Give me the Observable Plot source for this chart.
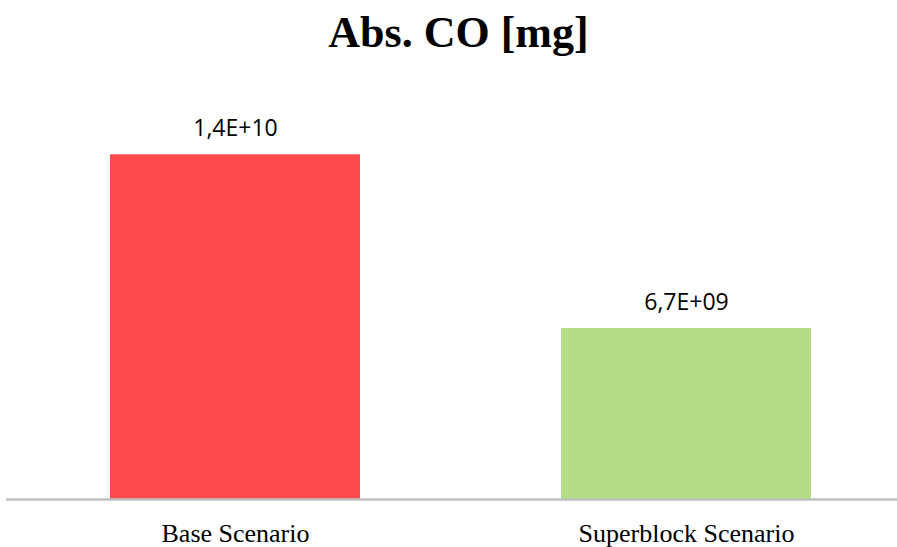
<!DOCTYPE html>
<html>
<head>
<meta charset="utf-8">
<script src="https://cdn.jsdelivr.net/npm/d3@7"></script>
<script src="https://cdn.jsdelivr.net/npm/@observablehq/plot@0.6"></script>
<style>
  html, body { margin: 0; padding: 0; background: #fff; }
  #title {
    width: 877px; height: 44px; padding-top: 11px; padding-bottom: 25px; padding-left: 20px;
    text-align: center; font-family: "Liberation Serif", "Times New Roman", serif;
    font-weight: bold; font-size: 44px; line-height: 44px; color: #000;
  }
</style>
</head>
<body>
<div id="title">Abs. CO [mg]</div>
<div id="chart"></div>
<script>
const categories = ["Base Scenario", "Superblock Scenario"];
const values = [1.35e10, 6.7e9];
const valueLabels = ["1,4E+10", "6,7E+09"];
const colors = ["#FF4B4B", "#B3DE85"];

const data = categories.map((c, i) => ({category: c, value: values[i], label: valueLabels[i], color: colors[i]}));

const chart = Plot.plot({
  width: 897,
  height: 467,
  marginTop: 36,
  marginBottom: 48,
  marginLeft: 6,
  marginRight: 0,
  x: {domain: categories, paddingInner: 0.446, paddingOuter: 0.2097, align: 0.549},
  y: {domain: [0, 1.5e10], axis: null},
  marks: [
    Plot.barY(data, {x: "category", y: "value", fill: "color"}),
    Plot.ruleY([0], {stroke: "#BFBFBF", strokeWidth: 2.5}),
    Plot.text(data, {x: "category", y: "value", text: "label", dy: -26, lineAnchor: "middle",
      fontFamily: "Open Sans, sans-serif", fontSize: 23, fill: "#000"}),
    Plot.axisX({tickSize: 0, tickPadding: 24, fontSize: 26, fontFamily: "Liberation Serif, Times New Roman, serif", label: null, color: "#000"})
  ]
});
chart.style.fontFamily = "Liberation Serif, serif";
document.getElementById("chart").appendChild(chart);
</script>
</body>
</html>
